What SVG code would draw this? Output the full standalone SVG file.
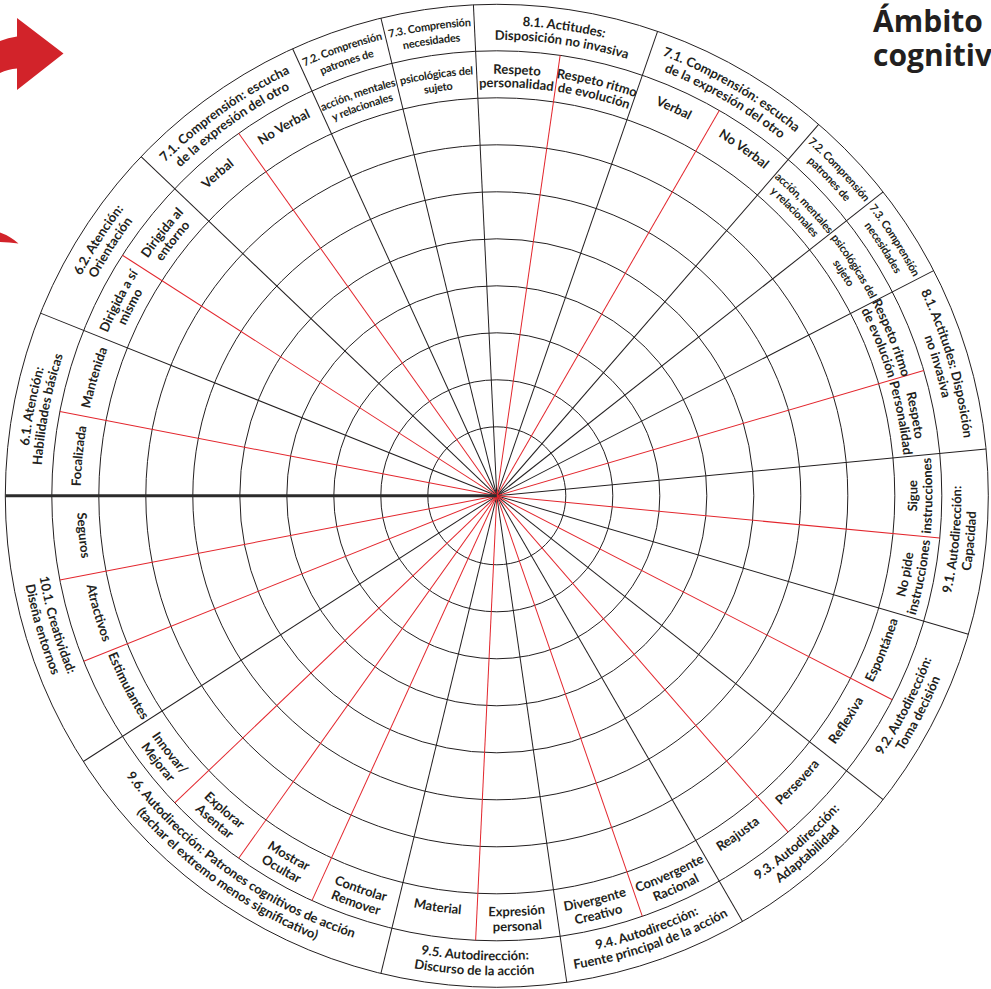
<svg xmlns="http://www.w3.org/2000/svg" width="991" height="989" viewBox="0 0 991 989">
<style>
.c{fill:none;stroke:#231f20;stroke-width:1}
.k{stroke:#231f20;stroke-width:1}
.r{stroke:#e3262d;stroke-width:1}
text{font-family:Lato,"Open Sans",sans-serif;font-size:13px;font-weight:700;fill:#231f20;text-anchor:middle}
text.s{font-size:11px;letter-spacing:-0.2px}
text.title{font-family:"Open Sans",Lato,sans-serif;font-size:30px;font-weight:700;text-anchor:start}
</style>
<defs>
<path id="u1" d="M-407.45,-235.25A470.5,470.5 0 0 1 407.45,-235.25"/>
<path id="u2" d="M-394.9,-228A456,456 0 0 1 394.9,-228"/>
<path id="ua" d="M-365.5,-211A422,422 0 0 1 365.5,-211"/>
<path id="ub" d="M-353.8,-204.25A408.5,408.5 0 0 1 353.8,-204.25"/>
<path id="us" d="M-360.3,-208A416,416 0 0 1 360.3,-208"/>
<path id="l1" d="M-402.3,232.25A464.5,464.5 0 0 0 402.3,232.25"/>
<path id="l2" d="M-415.3,239.75A479.5,479.5 0 0 0 415.3,239.75"/>
<path id="la" d="M-364.2,210.25A420.5,420.5 0 0 0 364.2,210.25"/>
<path id="lb" d="M-377.2,217.75A435.5,435.5 0 0 0 377.2,217.75"/>
<path id="ls" d="M-363.7,210A420,420 0 0 0 363.7,210"/>
</defs>

<g id="decor">
<path d="M0,41 Q8,37.5 17,36.5 L17,18 L63.5,53.5 L17,90 L17,68.5 Q8,69 0,73 Z" fill="#d2232a"/>
<path d="M0,232.5 Q10,236 18.5,243.5 Q9,242 0,242 Z" fill="#d2232a"/>
</g>

<g id="title">
<text class="title" x="873" y="32">Ámbito<tspan x="873" y="66">cognitiv</tspan></text>
</g>

<g id="rings" transform="translate(496.8 495.8)">
<circle class="c" r="69"/>
<circle class="c" r="116"/>
<circle class="c" r="163"/>
<circle class="c" r="210"/>
<circle class="c" r="257"/>
<circle class="c" r="304"/>
<circle class="c" r="351"/>
<circle class="c" r="398"/>
<circle class="c" r="445"/>
<circle class="c" r="491.5"/>
</g>

<g id="connectors" transform="translate(496.8 495.8)">
<line class="k" x2="491.5" transform="rotate(-158.182)"/>
<line class="k" x2="491.5" transform="rotate(-136.364)"/>
<line class="k" x2="491.5" transform="rotate(-114.545)"/>
<line class="k" x2="491.5" transform="rotate(-103.636)"/>
<line class="k" x2="491.5" transform="rotate(-92.727)"/>
<line class="k" x2="491.5" transform="rotate(-70.909)"/>
<line class="k" x2="491.5" transform="rotate(-49.091)"/>
<line class="k" x2="491.5" transform="rotate(-38.182)"/>
<line class="k" x2="491.5" transform="rotate(-27.273)"/>
<line class="k" x2="491.5" transform="rotate(-5.455)"/>
<line class="k" x2="491.5" transform="rotate(16.364)"/>
<line class="k" x2="491.5" transform="rotate(38.182)"/>
<line class="k" x2="491.5" transform="rotate(60)"/>
<line class="k" x2="491.5" transform="rotate(81.818)"/>
<line class="k" x2="491.5" transform="rotate(103.636)"/>
<line class="k" x2="491.5" transform="rotate(147.273)"/>
<line class="r" x2="445" transform="rotate(-169.091)"/>
<line class="r" x2="445" transform="rotate(-147.273)"/>
<line class="r" x2="445" transform="rotate(-125.455)"/>
<line class="r" x2="445" transform="rotate(-81.818)"/>
<line class="r" x2="445" transform="rotate(-60)"/>
<line class="r" x2="445" transform="rotate(-16.364)"/>
<line class="r" x2="445" transform="rotate(5.455)"/>
<line class="r" x2="445" transform="rotate(27.273)"/>
<line class="r" x2="445" transform="rotate(49.091)"/>
<line class="r" x2="445" transform="rotate(70.909)"/>
<line class="r" x2="445" transform="rotate(92.727)"/>
<line class="r" x2="445" transform="rotate(114.545)"/>
<line class="r" x2="445" transform="rotate(125.455)"/>
<line class="r" x2="445" transform="rotate(136.364)"/>
<line class="r" x2="445" transform="rotate(158.182)"/>
<line class="r" x2="445" transform="rotate(169.091)"/>
<line x1="-491.5" x2="0" stroke="#2b2b2b" stroke-width="3"/>
</g>

<g id="labels" transform="translate(496.8 495.8)">
<g id="cat-6-1"><text transform="rotate(-79.091)"><textPath href="#u1" startOffset="50%">6.1. Atención:</textPath></text><text transform="rotate(-79.091)"><textPath href="#u2" startOffset="50%">Habilidades básicas</textPath></text></g>
<g id="cat-6-2"><text transform="rotate(-57.273)"><textPath href="#u1" startOffset="50%">6.2. Atención:</textPath></text><text transform="rotate(-57.273)"><textPath href="#u2" startOffset="50%">Orientación</textPath></text></g>
<g id="cat-7-1a"><text transform="rotate(-35.455)"><textPath href="#u1" startOffset="50%">7.1. Comprensión: escucha</textPath></text><text transform="rotate(-35.455)"><textPath href="#u2" startOffset="50%">de la expresión del otro</textPath></text></g>
<g id="cat-7-2a"><text class="s" transform="rotate(-19.091)"><textPath href="#u1" startOffset="50%">7.2. Comprensión</textPath></text><text class="s" transform="rotate(-19.091)"><textPath href="#u2" startOffset="50%">patrones de</textPath></text></g>
<g id="cat-7-3a"><text class="s" transform="rotate(-8.182)"><textPath href="#u1" startOffset="50%">7.3. Comprensión</textPath></text><text class="s" transform="rotate(-8.182)"><textPath href="#u2" startOffset="50%">necesidades</textPath></text></g>
<g id="cat-8-1a"><text transform="rotate(8.182)"><textPath href="#u1" startOffset="50%">8.1. Actitudes:</textPath></text><text transform="rotate(8.182)"><textPath href="#u2" startOffset="50%">Disposición no invasiva</textPath></text></g>
<g id="cat-7-1b"><text transform="rotate(30)"><textPath href="#u1" startOffset="50%">7.1. Comprensión: escucha</textPath></text><text transform="rotate(30)"><textPath href="#u2" startOffset="50%">de la expresión del otro</textPath></text></g>
<g id="cat-7-2b"><text class="s" transform="rotate(46.364)"><textPath href="#u1" startOffset="50%">7.2. Comprensión</textPath></text><text class="s" transform="rotate(46.364)"><textPath href="#u2" startOffset="50%">patrones de</textPath></text></g>
<g id="cat-7-3b"><text class="s" transform="rotate(57.273)"><textPath href="#u1" startOffset="50%">7.3. Comprensión</textPath></text><text class="s" transform="rotate(57.273)"><textPath href="#u2" startOffset="50%">necesidades</textPath></text></g>
<g id="cat-8-1b"><text transform="rotate(73.636)"><textPath href="#u1" startOffset="50%">8.1. Actitudes: Disposición</textPath></text><text transform="rotate(73.636)"><textPath href="#u2" startOffset="50%">no invasiva</textPath></text></g>
<g id="cat-9-1"><text transform="rotate(-84.545)"><textPath href="#l1" startOffset="50%">9.1. Autodirección:</textPath></text><text transform="rotate(-84.545)"><textPath href="#l2" startOffset="50%">Capacidad</textPath></text></g>
<g id="cat-9-2"><text transform="rotate(-62.727)"><textPath href="#l1" startOffset="50%">9.2. Autodirección:</textPath></text><text transform="rotate(-62.727)"><textPath href="#l2" startOffset="50%">Toma decisión</textPath></text></g>
<g id="cat-9-3"><text transform="rotate(-40.909)"><textPath href="#l1" startOffset="50%">9.3. Autodirección:</textPath></text><text transform="rotate(-40.909)"><textPath href="#l2" startOffset="50%">Adaptabilidad</textPath></text></g>
<g id="cat-9-4"><text transform="rotate(-19.091)"><textPath href="#l1" startOffset="50%">9.4. Autodirección:</textPath></text><text transform="rotate(-19.091)"><textPath href="#l2" startOffset="50%">Fuente principal de la acción</textPath></text></g>
<g id="cat-9-5"><text transform="rotate(2.727)"><textPath href="#l1" startOffset="50%">9.5. Autodirección:</textPath></text><text transform="rotate(2.727)"><textPath href="#l2" startOffset="50%">Discurso de la acción</textPath></text></g>
<g id="cat-9-6"><text transform="rotate(35.455)"><textPath href="#l1" startOffset="50%">9.6. Autodirección:  Patrones cognitivos de acción</textPath></text><text transform="rotate(35.455)"><textPath href="#l2" startOffset="50%">(tachar el extremo menos significativo)</textPath></text></g>
<g id="cat-10-1"><text transform="rotate(73.636)"><textPath href="#l1" startOffset="50%">10.1. Creatividad:</textPath></text><text transform="rotate(73.636)"><textPath href="#l2" startOffset="50%">Diseña entornos</textPath></text></g>

<g id="s00"><text transform="rotate(-84.545)"><textPath href="#us" startOffset="50%">Focalizada</textPath></text></g>
<g id="s01"><text transform="rotate(-73.636)"><textPath href="#us" startOffset="50%">Mantenida</textPath></text></g>
<g id="s02"><text transform="rotate(-62.727)"><textPath href="#ua" startOffset="50%">Dirigida a sí</textPath></text><text transform="rotate(-62.727)"><textPath href="#ub" startOffset="50%">mismo</textPath></text></g>
<g id="s03"><text transform="rotate(-51.818)"><textPath href="#ua" startOffset="50%">Dirigida al</textPath></text><text transform="rotate(-51.818)"><textPath href="#ub" startOffset="50%">entorno</textPath></text></g>
<g id="s04"><text transform="rotate(-40.909)"><textPath href="#ua" startOffset="50%">Verbal</textPath></text></g>
<g id="s05"><text transform="rotate(-30)"><textPath href="#ua" startOffset="50%">No Verbal</textPath></text></g>
<g id="s06"><text class="s" transform="rotate(-19.091)"><textPath href="#ua" startOffset="50%">acción, mentales</textPath></text><text class="s" transform="rotate(-19.091)"><textPath href="#ub" startOffset="50%">y relacionales</textPath></text></g>
<g id="s07"><text class="s" transform="rotate(-8.182)"><textPath href="#ua" startOffset="50%">psicológicas del</textPath></text><text class="s" transform="rotate(-8.182)"><textPath href="#ub" startOffset="50%">sujeto</textPath></text></g>
<g id="s08"><text transform="rotate(2.727)"><textPath href="#ua" startOffset="50%">Respeto</textPath></text><text transform="rotate(2.727)"><textPath href="#ub" startOffset="50%">personalidad</textPath></text></g>
<g id="s09"><text transform="rotate(13.636)"><textPath href="#ua" startOffset="50%">Respeto ritmo</textPath></text><text transform="rotate(13.636)"><textPath href="#ub" startOffset="50%">de evolución</textPath></text></g>
<g id="s10"><text transform="rotate(24.545)"><textPath href="#ua" startOffset="50%">Verbal</textPath></text></g>
<g id="s11"><text transform="rotate(35.455)"><textPath href="#ua" startOffset="50%">No Verbal</textPath></text></g>
<g id="s12"><text class="s" transform="rotate(46.364)"><textPath href="#ua" startOffset="50%">acción, mentales</textPath></text><text class="s" transform="rotate(46.364)"><textPath href="#ub" startOffset="50%">y relacionales</textPath></text></g>
<g id="s13"><text class="s" transform="rotate(57.273)"><textPath href="#ua" startOffset="50%">psicológicas del</textPath></text><text class="s" transform="rotate(57.273)"><textPath href="#ub" startOffset="50%">sujeto</textPath></text></g>
<g id="s14"><text transform="rotate(68.182)"><textPath href="#ua" startOffset="50%">Respeto ritmo</textPath></text><text transform="rotate(68.182)"><textPath href="#ub" startOffset="50%">de evolución</textPath></text></g>
<g id="s15"><text transform="rotate(79.091)"><textPath href="#ua" startOffset="50%">Respeto</textPath></text><text transform="rotate(79.091)"><textPath href="#ub" startOffset="50%">Personalidad</textPath></text></g>
<g id="s16"><text transform="rotate(-90)"><textPath href="#la" startOffset="50%">Sigue</textPath></text><text transform="rotate(-90)"><textPath href="#lb" startOffset="50%">instrucciones</textPath></text></g>
<g id="s17"><text transform="rotate(-79.091)"><textPath href="#la" startOffset="50%">No pide</textPath></text><text transform="rotate(-79.091)"><textPath href="#lb" startOffset="50%">instrucciones</textPath></text></g>
<g id="s18"><text transform="rotate(-68.182)"><textPath href="#ls" startOffset="50%">Espontánea</textPath></text></g>
<g id="s19"><text transform="rotate(-57.273)"><textPath href="#ls" startOffset="50%">Reflexiva</textPath></text></g>
<g id="s20"><text transform="rotate(-46.364)"><textPath href="#ls" startOffset="50%">Persevera</textPath></text></g>
<g id="s21"><text transform="rotate(-35.455)"><textPath href="#ls" startOffset="50%">Reajusta</textPath></text></g>
<g id="s22"><text transform="rotate(-24.545)"><textPath href="#la" startOffset="50%">Convergente</textPath></text><text transform="rotate(-24.545)"><textPath href="#lb" startOffset="50%">Racional</textPath></text></g>
<g id="s23"><text transform="rotate(-13.636)"><textPath href="#la" startOffset="50%">Divergente</textPath></text><text transform="rotate(-13.636)"><textPath href="#lb" startOffset="50%">Creativo</textPath></text></g>
<g id="s24"><text transform="rotate(-2.727)"><textPath href="#la" startOffset="50%">Expresión</textPath></text><text transform="rotate(-2.727)"><textPath href="#lb" startOffset="50%">personal</textPath></text></g>
<g id="s25"><text transform="rotate(8.182)"><textPath href="#ls" startOffset="50%">Material</textPath></text></g>
<g id="s26"><text transform="rotate(19.091)"><textPath href="#la" startOffset="50%">Controlar</textPath></text><text transform="rotate(19.091)"><textPath href="#lb" startOffset="50%">Remover</textPath></text></g>
<g id="s27"><text transform="rotate(30)"><textPath href="#la" startOffset="50%">Mostrar</textPath></text><text transform="rotate(30)"><textPath href="#lb" startOffset="50%">Ocultar</textPath></text></g>
<g id="s28"><text transform="rotate(40.909)"><textPath href="#la" startOffset="50%">Explorar</textPath></text><text transform="rotate(40.909)"><textPath href="#lb" startOffset="50%">Asentar</textPath></text></g>
<g id="s29"><text transform="rotate(51.818)"><textPath href="#la" startOffset="50%">Innovar/</textPath></text><text transform="rotate(51.818)"><textPath href="#lb" startOffset="50%">Mejorar</textPath></text></g>
<g id="s30"><text transform="rotate(62.727)"><textPath href="#ls" startOffset="50%">Estimulantes</textPath></text></g>
<g id="s31"><text transform="rotate(73.636)"><textPath href="#ls" startOffset="50%">Atractivos</textPath></text></g>
<g id="s32"><text transform="rotate(84.545)"><textPath href="#ls" startOffset="50%">Seguros</textPath></text></g>
</g>
</svg>
